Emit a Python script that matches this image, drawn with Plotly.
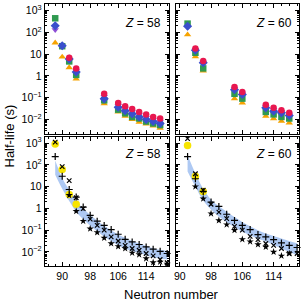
import plotly.graph_objects as go

# ---------------- data ----------------
# top panels: model predictions (five model variants)
N_top_58 = [88, 90, 92, 94, 102, 106, 108, 110, 112, 114, 116, 118]
red_58 = [None, None, 6.8, 2.2, 0.15, 0.057, 0.040, 0.030, 0.022, 0.017, 0.013, 0.011]
purple_58 = [130, 22, 5.5, 1.7, 0.11, 0.043, 0.030, 0.022, 0.016, 0.012, 0.0095, 0.0078]
blue_58 = [200, 24, 5.9, 1.5, 0.088, 0.036, 0.025, 0.018, 0.013, 0.010, 0.008, 0.0065]
green_58 = [440, 23, 4.6, 1.1, 0.075, 0.028, 0.019, 0.013, 0.011, 0.008, 0.0065, 0.0055]
orange_58 = [33, 7.4, 2.4, 0.72, 0.053, 0.022, 0.014, 0.010, 0.0076, 0.0063, 0.005, 0.004]

N_top_60 = [92, 94, 96, 104, 106, 112, 114, 116, 118]
red_60 = [None, 18, 4.8, 0.31, 0.18, 0.047, 0.034, 0.026, 0.020]
purple_60 = [170, 16, 4.2, 0.26, 0.155, 0.039, 0.028, 0.022, 0.017]
blue_60 = [190, 15, 4.0, 0.23, 0.14, 0.034, 0.024, 0.020, 0.015]
green_60 = [250, 11.5, 2.2, 0.15, 0.09, 0.022, 0.017, 0.013, 0.011]
orange_60 = [78, 7.6, 1.7, 0.09, 0.058, 0.014, 0.011, 0.0083, 0.007]

# bottom panels
N_bot_58 = [88, 90, 92, 94, 96, 98, 100, 102, 104, 106, 108, 110, 112, 114, 116, 118, 120]
exp_N_58 = [88, 90, 92, 94]
exp_58 = [900, 61, 4.3, 1.55]
cross_58 = [1100, 83, 19, 3.1, 0.98, 0.32, 0.166, 0.10, 0.049, 0.032, 0.020, 0.0145, 0.012, 0.0085, 0.0066, 0.0045, 0.0032]
plus_58 = [240, 30, 7.4, 3.3, 1.15, 0.48, 0.26, 0.166, 0.107, 0.065, 0.038, 0.029, 0.022, 0.017, 0.0135, 0.0107, 0.0085]
star_58 = [None, None, 4.0, 0.74, 0.26, 0.117, 0.079, 0.044, 0.0245, 0.018, 0.0145, 0.0091, 0.0076, 0.005, 0.0033, 0.0035, 0.0028]
band_hi_58 = [158, 25, 7.1, 2.2, 1.0, 0.5, 0.28, 0.16, 0.1, 0.063, 0.045, 0.032, 0.025, 0.019, 0.015, 0.0126, 0.0112]
band_lo_58 = [35, 7.9, 2.2, 0.71, 0.32, 0.16, 0.089, 0.05, 0.032, 0.02, 0.014, 0.0112, 0.0089, 0.0071, 0.0056, 0.005, 0.0045]

N_bot_60 = [92, 94, 96, 98, 100, 102, 104, 106, 108, 110, 112, 114, 116, 118, 120]
exp_N_60 = [92, 94, 96]
exp_60 = [780, 30, 6.0]
cross_60 = [1600, 39, 6.8, 1.55, 0.68, 0.34, 0.15, 0.10, 0.052, 0.037, 0.0245, 0.020, 0.0145, 0.0085, 0.0085]
plus_60 = [240, 23, 6.0, 1.95, 1.23, 0.54, 0.28, 0.166, 0.107, 0.063, 0.049, 0.037, 0.026, 0.020, 0.016]
star_60 = [None, 10, 2.8, 0.58, 0.28, 0.18, 0.10, 0.038, 0.030, 0.022, 0.017, 0.010, 0.0066, 0.0085, None]
band_hi_60 = [280, 40, 7.9, 2.5, 1.26, 0.71, 0.4, 0.24, 0.15, 0.1, 0.071, 0.054, 0.042, 0.032, 0.025]
band_lo_60 = [50, 10, 2.3, 0.89, 0.42, 0.23, 0.135, 0.085, 0.058, 0.04, 0.03, 0.021, 0.0145, 0.01, 0.0071]

y_tickvals = [1e-2, 1e-1, 1, 10, 100, 1000]
y_ticktext = ["10<sup>\u22122</sup>", "10<sup>\u22121</sup>", "1", "10", "10<sup>2</sup>", "10<sup>3</sup>"]
x_tickvals = [90, 98, 106, 114]
panel_labels = ["<i>Z</i> = 58", "<i>Z</i> = 60", "<i>Z</i> = 58", "<i>Z</i> = 60"]

# ---------------- styling ----------------
W = H = 304
FONT = "Liberation Sans, Arial, sans-serif"
C_RED = "#e8174f"
C_PURPLE = "#8e4fd6"
C_BLUE = "#3a4fcc"
C_GREEN = "#2f9a50"
C_ORANGE = "#f6a300"
C_YELLOW = "#f7e400"
C_BAND = "rgba(125,168,236,0.62)"

fig = go.Figure()


def top_series(N, vals, color, symbol, size, xa, ya):
    fig.add_trace(go.Scatter(x=N, y=vals, mode="markers", xaxis=xa, yaxis=ya,
                             marker=dict(color=color, symbol=symbol, size=size, line=dict(width=0)),
                             showlegend=False, cliponaxis=False))


for (N, r, p, b, g, o, xa, ya) in [
    (N_top_58, red_58, purple_58, blue_58, green_58, orange_58, "x", "y"),
    (N_top_60, red_60, purple_60, blue_60, green_60, orange_60, "x2", "y2"),
]:
    top_series(N, o, C_ORANGE, "triangle-up", 6.5, xa, ya)
    top_series(N, g, C_GREEN, "square", 6.5, xa, ya)
    top_series(N, p, C_PURPLE, "triangle-down", 6.5, xa, ya)
    top_series(N, b, C_BLUE, "diamond", 7, xa, ya)
    top_series(N, r, C_RED, "circle", 6.5, xa, ya)

for (N, hi, lo, eN, ev, cr, pl, st, xa, ya) in [
    (N_bot_58, band_hi_58, band_lo_58, exp_N_58, exp_58, cross_58, plus_58, star_58, "x3", "y3"),
    (N_bot_60, band_hi_60, band_lo_60, exp_N_60, exp_60, cross_60, plus_60, star_60, "x4", "y4"),
]:
    fig.add_trace(go.Scatter(x=N, y=hi, mode="lines", line=dict(width=0, shape="spline"),
                             xaxis=xa, yaxis=ya, showlegend=False, hoverinfo="skip"))
    fig.add_trace(go.Scatter(x=N, y=lo, mode="lines", line=dict(width=0, shape="spline"),
                             fill="tonexty", fillcolor=C_BAND,
                             xaxis=xa, yaxis=ya, showlegend=False, hoverinfo="skip"))
    fig.add_trace(go.Scatter(x=eN, y=ev, mode="markers", xaxis=xa, yaxis=ya, showlegend=False,
                             marker=dict(color=C_YELLOW, symbol="circle", size=7.5, line=dict(width=0)),
                             cliponaxis=False))
    fig.add_trace(go.Scatter(x=N, y=st, mode="markers", xaxis=xa, yaxis=ya, showlegend=False,
                             marker=dict(color="black", symbol="star", size=5.5, line=dict(width=0)),
                             cliponaxis=False))
    fig.add_trace(go.Scatter(x=N, y=pl, mode="markers", xaxis=xa, yaxis=ya, showlegend=False,
                             marker=dict(color="black", symbol="cross-thin", size=5,
                                         line=dict(width=1.2, color="black")), cliponaxis=False))
    fig.add_trace(go.Scatter(x=N, y=cr, mode="markers", xaxis=xa, yaxis=ya, showlegend=False,
                             marker=dict(color="black", symbol="x-thin", size=4.5,
                                         line=dict(width=1.2, color="black")), cliponaxis=False))

# pixel geometry
xL = [43 / W, 168 / W]
xR = [175 / W, 299 / W]
yT = [(H - 133) / H, (H - 3) / H]
yB = [(H - 266) / H, (H - 136) / H]

minor_log = [m * 10 ** e for e in range(-3, 4) for m in range(2, 10)]

common_x = dict(showline=True, linecolor="black", linewidth=1, mirror="allticks",
                ticks="inside", ticklen=4, tickwidth=1, tickcolor="black",
                tickmode="array", tickvals=x_tickvals, showgrid=False, zeroline=False,
                minor=dict(ticks="inside", ticklen=2, tickwidth=1, tickcolor="black", dtick=2,
                           tick0=90, showgrid=False),
                tickfont=dict(size=10.5, family=FONT, color="black"))
common_y = dict(type="log", showline=True, linecolor="black", linewidth=1, mirror="allticks",
                ticks="inside", ticklen=4, tickwidth=1, tickcolor="black",
                tickmode="array", tickvals=y_tickvals, ticktext=y_ticktext,
                range=[-2.65, 3.3], showgrid=False, zeroline=False,
                minor=dict(ticks="inside", ticklen=2, tickwidth=1, tickcolor="black",
                           tickmode="array", tickvals=minor_log, showgrid=False),
                tickfont=dict(size=10.5, family=FONT, color="black"))

fig.update_layout(
    width=W, height=H, margin=dict(l=0, r=0, t=0, b=0),
    paper_bgcolor="white", plot_bgcolor="white",
    font=dict(family=FONT, size=10, color="black"),
    showlegend=False,
    xaxis=dict(common_x, domain=xL, range=[85, 120.5], anchor="y", showticklabels=False),
    yaxis=dict(common_y, domain=yT, anchor="x"),
    xaxis2=dict(common_x, domain=xR, range=[89, 120.5], anchor="y2", showticklabels=False),
    yaxis2=dict(common_y, domain=yT, anchor="x2", showticklabels=False),
    xaxis3=dict(common_x, domain=xL, range=[85, 120.5], anchor="y3"),
    yaxis3=dict(common_y, domain=yB, anchor="x3"),
    xaxis4=dict(common_x, domain=xR, range=[89, 120.5], anchor="y4"),
    yaxis4=dict(common_y, domain=yB, anchor="x4", showticklabels=False),
)

annots = []
for lab, xr, yr, xpos, ypos in [
    (panel_labels[0], "x domain", "y domain", 0.955, 0.856),
    (panel_labels[1], "x2 domain", "y2 domain", 0.957, 0.856),
    (panel_labels[2], "x3 domain", "y3 domain", 0.955, 0.867),
    (panel_labels[3], "x4 domain", "y4 domain", 0.957, 0.867),
]:
    annots.append(dict(text=lab, xref=xr, yref=yr, x=xpos, y=ypos, xanchor="right",
                       yanchor="middle", showarrow=False, font=dict(size=12, family=FONT)))
annots.append(dict(text="Half-life (s)", xref="paper", yref="paper", x=8 / W, y=1 - 135 / H,
                   textangle=-90, showarrow=False, xanchor="center", yanchor="middle",
                   font=dict(size=13, family=FONT)))
annots.append(dict(text="Neutron number", xref="paper", yref="paper", x=171 / W, y=1 - 294 / H,
                   showarrow=False, xanchor="center", yanchor="middle",
                   font=dict(size=13, family=FONT)))
fig.update_layout(annotations=annots)

fig.write_html("out.html", config={"displayModeBar": False},
               post_script="document.body.style.margin='0';")
